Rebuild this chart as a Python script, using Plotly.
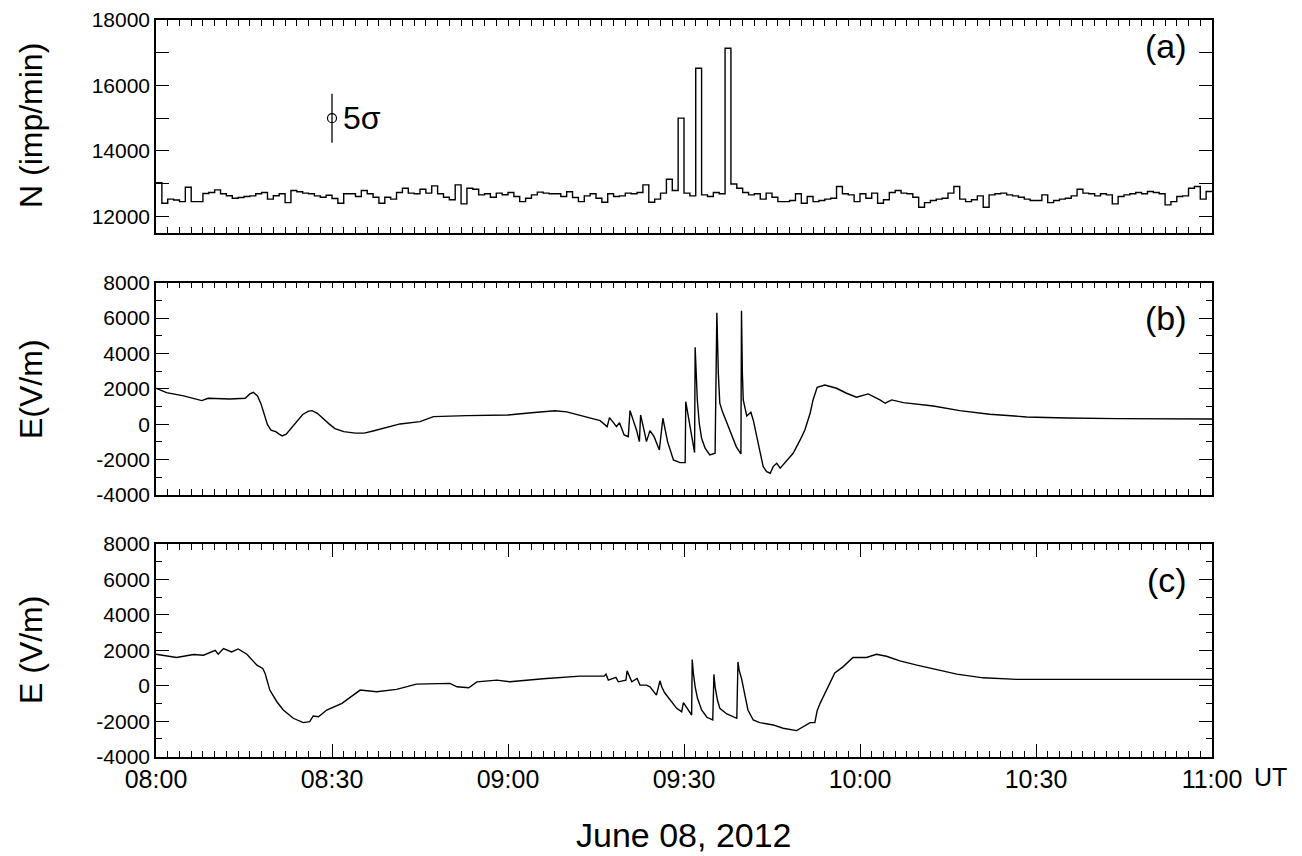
import plotly.graph_objects as go

# ---------------- data ----------------
# panel (a): neutron counts, 1-minute bins starting at 08:00 (minutes after 08:00)
N_COUNTS = [
    13030, 12400, 12525, 12500, 12450, 12890, 12450, 12450, 12700, 12730,
    12810, 12690, 12630, 12555, 12575, 12605, 12625, 12690, 12730, 12525,
    12630, 12690, 12420, 12790, 12750, 12710, 12690, 12625, 12585, 12645,
    12545, 12400, 12690, 12690, 12605, 12790, 12690, 12585, 12400, 12585,
    12525, 12730, 12860, 12710, 12690, 12830, 12710, 12930, 12690, 12585,
    12505, 12960, 12380, 12860, 12830, 12657, 12690, 12585, 12710, 12660,
    12730, 12605, 12450, 12555, 12657, 12740, 12710, 12690, 12690, 12605,
    12750, 12575, 12450, 12625, 12690, 12555, 12430, 12690, 12605, 12625,
    12710, 12690, 12730, 12960, 12430, 12525, 12710, 13135, 12790, 15000,
    12710, 12625, 16525, 12657, 12605, 12730, 12690, 17136, 12990, 12860,
    12730, 12657, 12690, 12525, 12710, 12585, 12450, 12450, 12485, 12690,
    12400, 12605, 12450, 12485, 12525, 12555, 12910, 12690, 12657, 12450,
    12690, 12555, 12710, 12400, 12505, 12730, 12790, 12710, 12690, 12585,
    12280, 12420, 12485, 12525, 12555, 12710, 12910, 12525, 12450, 12505,
    12625, 12280, 12657, 12690, 12710, 12657, 12625, 12585, 12525, 12485,
    12485, 12657, 12420, 12485, 12525, 12555, 12625, 12830, 12710, 12690,
    12625, 12690, 12657, 12380, 12605, 12657, 12690, 12730, 12690, 12760,
    12730, 12690, 12350, 12450, 12605, 12625, 12860, 12910, 12525, 12760,
]
BIN_MINUTES = 1

# 5 sigma reference bar
SIGMA_X = [30]
SIGMA_Y = [15000]
SIGMA_ERR = [750]

# panel (b): electric field (minutes after 08:00, V/m)
EB_POINTS = [
    (0.0, 2030), (1.8, 1785), (4.7, 1600), (7.8, 1335), (8.9, 1470), (12.6, 1430),
    (15.2, 1470), (16.0, 1712), (16.6, 1800), (17.3, 1600), (17.9, 1150), (18.5, 500),
    (19.0, -20), (19.6, -330), (20.4, -420), (21.0, -560), (21.5, -660), (22.2, -560),
    (23.0, -250), (24.0, 200), (25.0, 550), (26.0, 740), (26.6, 770), (27.5, 620),
    (28.5, 300), (29.5, 20), (30.5, -250), (32.0, -420), (34.0, -500), (35.5, -500),
    (37.0, -380), (38.7, -226), (41.6, 17), (45.0, 147), (47.3, 430), (53.0, 486),
    (60.0, 525), (64.0, 650), (68.0, 760), (70.0, 700), (72.3, 487), (75.7, 204),
    (76.9, -135), (77.3, 373), (78.5, -135), (79.0, 90), (79.8, -605), (80.5, -700),
    (80.8, 768), (81.9, -322), (82.4, -983), (82.6, 525), (83.3, -508), (83.6, -983),
    (84.2, -362), (84.9, -700), (85.8, -1452), (86.0, -847), (86.4, 339), (87.2, -983),
    (88.2, -2017), (89.3, -2170), (90.2, -2170), (90.3, 1277), (90.56, 808), (91.0, 56),
    (91.4, -887), (91.8, -1604), (91.9, 4350), (92.04, 2880), (92.27, 1373), (92.6, 56),
    (93.0, -791), (93.6, -1356), (94.4, -1735), (95.3, -1640), (95.6, 6305), (95.85, 2880),
    (96.1, 1187), (96.55, 713), (97.25, 147), (98.1, -508), (98.9, -1266), (99.7, -1678),
    (99.8, 6418), (99.95, 2880), (100.1, 1373), (100.7, 469), (101.4, 678), (101.8, 243),
    (102.7, -1266), (103.5, -2396), (104.1, -2678), (104.7, -2769), (105.2, -2396), (105.8, -2204),
    (106.4, -2486), (106.9, -2300), (108.6, -1640), (109.8, -887), (110.6, -322), (111.5, 621),
    (112.0, 1373), (112.7, 2090), (114.0, 2220), (116.0, 2034), (117.7, 1752), (119.4, 1525),
    (121.4, 1712), (123.4, 1373), (124.3, 1187), (125.4, 1373), (127.4, 1220), (132.5, 1034),
    (137.0, 768), (142.1, 565), (148.4, 412), (155.2, 356), (163.7, 318), (180.0, 300),
]

# panel (c): electric field at the second sensor (minutes after 08:00, V/m)
EC_POINTS = [
    (0.0, 1780), (3.5, 1596), (6.4, 1765), (8.1, 1725), (10.1, 2006), (10.6, 1781),
    (11.5, 2100), (12.9, 1911), (14.0, 2079), (15.5, 1781), (17.2, 1163), (18.2, 977),
    (18.6, 697), (19.4, -242), (20.6, -899), (21.7, -1366), (23.4, -1832), (25.1, -2079),
    (26.2, -2023), (26.8, -1703), (27.7, -1742), (29.1, -1366), (31.7, -989), (34.8, -242),
    (37.6, -337), (41.0, -202), (44.4, 96), (50.1, 135), (51.3, -56), (53.3, -112),
    (54.7, 225), (58.1, 320), (60.3, 225), (66.0, 400), (72.3, 545), (76.4, 545),
    (76.7, 658), (77.1, 320), (78.4, 472), (78.8, 225), (80.1, 320), (80.3, 843),
    (81.1, 225), (82.0, 416), (82.5, 39), (83.6, 39), (84.2, -56), (85.3, -523),
    (85.9, 281), (86.2, -56), (86.7, -393), (87.6, -804), (88.75, -1270), (89.6, -1461),
    (89.9, -955), (91.3, -1647), (91.4, 1484), (91.6, 697), (91.9, -56), (92.3, -708),
    (93.0, -1366), (93.9, -1776), (94.9, -1928), (95.1, 641), (95.3, -56), (95.7, -804),
    (96.1, -1270), (97.3, -1590), (99.0, -1832), (99.2, 1349), (99.4, 882), (99.8, 416),
    (100.4, -618), (100.9, -1366), (101.8, -1928), (102.9, -2079), (105.2, -2209), (106.9, -2394),
    (109.2, -2529), (111.5, -2079), (112.3, -2079), (112.7, -1405), (113.2, -989), (114.0, -427),
    (114.9, 135), (115.7, 731), (117.1, 1068), (118.8, 1596), (121.1, 1596), (122.8, 1781),
    (124.5, 1669), (126.8, 1405), (129.7, 1163), (133.1, 922), (136.5, 658), (141.0, 450),
    (146.7, 360), (158.1, 360), (180.0, 360),
]

X_TICKS = [0, 30, 60, 90, 120, 150, 180]
X_LABELS = ["08:00", "08:30", "09:00", "09:30", "10:00", "10:30", "11:00"]
YA_TICKS = [12000, 13000, 14000, 15000, 16000, 17000, 18000]
YA_LABELS = ["12000", "", "14000", "", "16000", "", "18000"]
YE_TICKS = [-4000, -2000, 0, 2000, 4000, 6000, 8000]
YE_LABELS = ["-4000", "-2000", "0", "2000", "4000", "6000", "8000"]

# ---------------- figure ----------------
W, H = 1302, 856
FONT = "Liberation Sans, Arial, Helvetica, sans-serif"
X0, X1 = 156 / W, 1212 / W
DOM_A = [1 - 232.7 / H, 1 - 20 / H]
DOM_B = [1 - 495 / H, 1 - 282.7 / H]
DOM_C = [1 - 756.7 / H, 1 - 544 / H]

fig = go.Figure()

hist_x = [i * BIN_MINUTES for i in range(len(N_COUNTS) + 1)]
hist_y = N_COUNTS + [N_COUNTS[-1]]
fig.add_trace(go.Scatter(x=hist_x, y=hist_y, mode="lines", line=dict(shape="hv", color="black", width=1.4),
                         xaxis="x", yaxis="y", hoverinfo="skip"))
fig.add_trace(go.Scatter(x=SIGMA_X, y=SIGMA_Y, mode="markers",
                         marker=dict(symbol="circle-open", size=9, color="black", line=dict(width=1.2)),
                         error_y=dict(type="data", array=SIGMA_ERR, visible=True, color="black", thickness=1.3, width=0),
                         xaxis="x", yaxis="y"))
fig.add_trace(go.Scatter(x=[p[0] for p in EB_POINTS], y=[p[1] for p in EB_POINTS], mode="lines",
                         line=dict(color="black", width=1.4), xaxis="x2", yaxis="y2"))
fig.add_trace(go.Scatter(x=[p[0] for p in EC_POINTS], y=[p[1] for p in EC_POINTS], mode="lines",
                         line=dict(color="black", width=1.4), xaxis="x3", yaxis="y3"))

def xax(show_labels, anchor):
    return dict(domain=[X0, X1], range=[0, 180], anchor=anchor,
                showline=True, linecolor="black", linewidth=1.5, mirror="allticks",
                ticks="inside", ticklen=13, tickwidth=1.2, tickcolor="black",
                tickmode="array", tickvals=X_TICKS,
                ticktext=X_LABELS if show_labels else [""] * len(X_TICKS),
                showticklabels=show_labels,
                minor=dict(dtick=2, tick0=0, ticks="inside", ticklen=6, tickwidth=1.2, tickcolor="black", showgrid=False),
                showgrid=False, zeroline=False, automargin=False,
                tickfont=dict(family=FONT, size=25, color="black"))

def yax(dom, rng, tv, tt, minor, anchor):
    d = dict(domain=dom, range=rng, anchor=anchor,
             showline=True, linecolor="black", linewidth=1.5, mirror="allticks",
             ticks="inside", ticklen=13, tickwidth=1.2, tickcolor="black",
             tickmode="array", tickvals=tv, ticktext=tt,
             showgrid=False, zeroline=False, automargin=False,
             tickfont=dict(family=FONT, size=21, color="black"))
    if minor:
        d["minor"] = dict(dtick=1000, tick0=0, ticks="inside", ticklen=6, tickwidth=1.2, tickcolor="black", showgrid=False)
    return d

fig.update_layout(
    width=W, height=H, margin=dict(l=0, r=0, t=0, b=0),
    paper_bgcolor="white", plot_bgcolor="white", showlegend=False,
    font=dict(family=FONT, color="black"),
    xaxis=xax(False, "y"), xaxis2=xax(False, "y2"), xaxis3=xax(True, "y3"),
    yaxis=yax(DOM_A, [11500, 18000], YA_TICKS, YA_LABELS, False, "x"),
    yaxis2=yax(DOM_B, [-4000, 8000], YE_TICKS, YE_LABELS, True, "x2"),
    yaxis3=yax(DOM_C, [-4000, 8000], YE_TICKS, YE_LABELS, True, "x3"),
)

def ann(text, x, y, size, angle=0, xanchor="center", yanchor="middle", xref="paper", yref="paper"):
    fig.add_annotation(text=text, x=x, y=y, xref=xref, yref=yref, showarrow=False,
                       textangle=angle, xanchor=xanchor, yanchor=yanchor,
                       font=dict(family=FONT, size=size, color="black"))

ann("N (imp/min)", 31 / W, 1 - 126 / H, 32, angle=-90)
ann("E(V/m)", 31 / W, 1 - 389 / H, 32, angle=-90)
ann("E (V/m)", 31 / W, 1 - 650 / H, 32, angle=-90)
ann("(a)", 1189 / W, 1 - 46 / H, 34, xanchor="right")
ann("(b)", 1189 / W, 1 - 318 / H, 34, xanchor="right")
ann("(c)", 1189 / W, 1 - 580 / H, 34, xanchor="right")
ann("5σ", 31.6, 15000, 32, xanchor="left", xref="x", yref="y")
ann("UT", 1252 / W, 1 - 777 / H, 25, xanchor="left")
ann("June 08, 2012", 684 / W, 1 - 835 / H, 34)

fig.write_html("out.html", config={"displayModeBar": False},
               post_script="document.body.style.margin='0';document.body.style.overflow='hidden';")
